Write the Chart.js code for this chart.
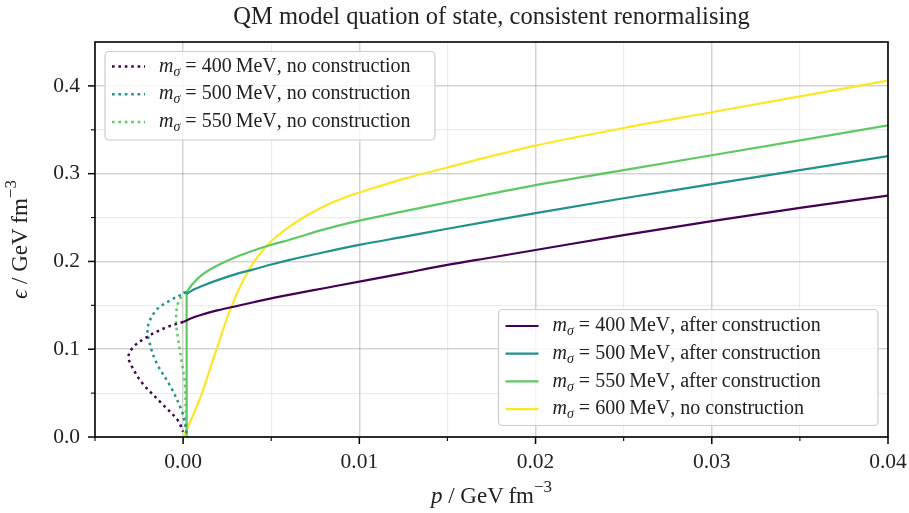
<!DOCTYPE html>
<html>
<head>
<meta charset="utf-8">
<script src="https://cdn.jsdelivr.net/npm/chart.js@4.4.1/dist/chart.umd.min.js"></script>
<style>
  html, body { margin: 0; padding: 0; background: #fff; }
  canvas { display: block; }
</style>
</head>
<body>
<canvas id="grafico" width="909" height="513"></canvas>
<script>
// data: p (x) and epsilon (y), GeV fm^-3
const p400 = [0, 0.0005, 0.001, 0.002, 0.003, 0.004, 0.005, 0.006, 0.008, 0.01, 0.0125, 0.015, 0.0175, 0.02, 0.025, 0.03, 0.035, 0.04];
const e400 = [0.131, 0.1355, 0.139, 0.1445, 0.149, 0.1535, 0.158, 0.162, 0.1695, 0.177, 0.1865, 0.196, 0.2045, 0.213, 0.230, 0.246, 0.261, 0.275];

const p500 = [0.0002, 0.0006, 0.001, 0.002, 0.003, 0.004, 0.005, 0.006, 0.008, 0.01, 0.0125, 0.015, 0.0175, 0.02, 0.025, 0.03, 0.035, 0.04];
const e500 = [0.163, 0.168, 0.1715, 0.179, 0.1855, 0.191, 0.1965, 0.2015, 0.2105, 0.2188, 0.228, 0.2372, 0.2462, 0.255, 0.272, 0.288, 0.304, 0.320];

// 550: vertical jump of the construction, then the curve
const p550jump = [0.0002, 0.0002];
const e550jump = [0, 0.165];
const p550 = [0.0002, 0.0005, 0.001, 0.0015, 0.002, 0.003, 0.004, 0.005, 0.006, 0.008, 0.01, 0.0125, 0.015, 0.0175, 0.02, 0.025, 0.03, 0.035, 0.04];
const e550 = [0.165, 0.1735, 0.1835, 0.1905, 0.196, 0.205, 0.2125, 0.219, 0.2245, 0.2365, 0.2465, 0.257, 0.2673, 0.2773, 0.287, 0.304, 0.321, 0.338, 0.355];

const p600 = [0, 0.0005, 0.001, 0.0015, 0.002, 0.0025, 0.003, 0.0035, 0.004, 0.0045, 0.005, 0.006, 0.007, 0.008, 0.009, 0.01, 0.011, 0.0125, 0.015, 0.0175, 0.02, 0.025, 0.03, 0.035, 0.04];
const e600 = [0, 0.022, 0.046, 0.076, 0.106, 0.136, 0.161, 0.182, 0.199, 0.212, 0.223, 0.239, 0.252, 0.263, 0.2715, 0.2785, 0.2848, 0.294, 0.307, 0.320, 0.332, 0.352, 0.370, 0.388, 0.406];

// no construction (the loops)
const p400nc = [0, -0.0008, -0.0015, -0.0022, -0.0028, -0.0031, -0.0029, -0.0023, -0.0012, -0.0003, 0];
const e400nc = [0.131, 0.126, 0.120, 0.112, 0.103, 0.092, 0.080, 0.061, 0.038, 0.019, 0.006];

const p500nc = [0.0002, -0.0007, -0.0015, -0.0020, -0.0019, -0.0015, -0.0007, -0.0001, 0.0001, 0.0002];
const e500nc = [0.165, 0.156, 0.145, 0.126, 0.107, 0.084, 0.057, 0.031, 0.016, 0.004];

const p550nc = [0.0001, -0.0003, -0.0004, -0.0003, -0.0001, 0.0001, 0.00015, 0.0002];
const e550nc = [0.166, 0.152, 0.131, 0.114, 0.088, 0.061, 0.031, 0.006];

const xMajor = [0, 0.01, 0.02, 0.03, 0.04];
const xMinor = [-0.005, 0.005, 0.015, 0.025, 0.035];
const yMajor = [0, 0.1, 0.2, 0.3, 0.4];
const yMinor = [0.05, 0.15, 0.25, 0.35];

const masses = [400, 500, 550, 600];
const titulo = 'QM model quation of state, consistent renormalising';

const cores = { 400: '#440154', 500: '#21918c', 550: '#5ec962', 600: '#fde725' };
const SERIF = '"Liberation Serif", "DejaVu Serif", serif';

function pontos(xs, ys) {
  return xs.map((x, i) => ({ x, y: ys[i] }));
}

function ehMajor(v, passo) {
  const q = v / passo;
  return Math.abs(q - Math.round(q)) < 1e-6;
}

const tracejado = [2.6, 3.8];

const datasets = [
  { label: '400 nc', data: pontos(p400nc, e400nc), borderColor: cores[400], borderDash: tracejado, tension: 0.35, borderWidth: 2.5 },
  { label: '500 nc', data: pontos(p500nc, e500nc), borderColor: cores[500], borderDash: tracejado, tension: 0.35, borderWidth: 2.5 },
  { label: '550 nc', data: pontos(p550nc, e550nc), borderColor: cores[550], borderDash: tracejado, tension: 0.35, borderWidth: 2.5 },
  { label: '400', data: pontos(p400, e400), borderColor: cores[400], cubicInterpolationMode: 'monotone' },
  { label: '500', data: pontos(p500, e500), borderColor: cores[500], cubicInterpolationMode: 'monotone' },
  { label: '550 jump', data: pontos(p550jump, e550jump), borderColor: cores[550] },
  { label: '550', data: pontos(p550, e550), borderColor: cores[550], cubicInterpolationMode: 'monotone' },
  { label: '600', data: pontos(p600, e600), borderColor: cores[600], cubicInterpolationMode: 'monotone' }
].map(d => Object.assign({ showLine: true, pointRadius: 0, borderWidth: 2.2, fill: false, borderCapStyle: 'butt' }, d));

// draw a label with pieces of italic / sub / superscript text
function medirPecas(ctx, pecas) {
  let w = 0;
  pecas.forEach(p => { ctx.font = p.font; w += ctx.measureText(p.t).width; });
  return w;
}
function desenharPecas(ctx, pecas, x, y) {
  pecas.forEach(p => {
    ctx.font = p.font;
    ctx.fillText(p.t, x, y + (p.dy || 0));
    x += ctx.measureText(p.t).width;
  });
}
function pecasLegenda(massa, nota, s) {
  return [
    { t: 'm', font: `italic ${s}px ${SERIF}` },
    { t: 'σ', font: `italic ${Math.round(s * 0.72)}px ${SERIF}`, dy: s * 0.28 },
    { t: ' = ', font: `${s}px ${SERIF}` },
    { t: massa + '\u2009MeV', font: `${s}px ${SERIF}` },
    { t: ', ' + nota, font: `${s}px ${SERIF}` }
  ];
}
function pecasEixo(simbolo, s) {
  return [
    { t: simbolo, font: `italic ${s}px ${SERIF}` },
    { t: ' / GeV\u2009fm', font: `${s}px ${SERIF}` },
    { t: '\u22123', font: `${Math.round(s * 0.72)}px ${SERIF}`, dy: -s * 0.42 }
  ];
}

function desenharLegenda(ctx, caixa, itens) {
  ctx.save();
  ctx.beginPath();
  ctx.roundRect(caixa.x, caixa.y, caixa.w, caixa.h, 4);
  ctx.fillStyle = 'rgba(255,255,255,0.8)';
  ctx.fill();
  ctx.strokeStyle = '#cccccc';
  ctx.lineWidth = 1.2;
  ctx.stroke();
  itens.forEach((it, i) => {
    const y = caixa.y + caixa.linha0 + i * caixa.passo;
    ctx.beginPath();
    ctx.setLineDash(it.dash || []);
    ctx.strokeStyle = it.cor;
    ctx.lineWidth = it.dash ? 2.5 : 2.2;
    ctx.moveTo(caixa.x + 7, y);
    ctx.lineTo(caixa.x + 40, y);
    ctx.stroke();
    ctx.setLineDash([]);
    ctx.fillStyle = '#222';
    ctx.textBaseline = 'middle';
    ctx.textAlign = 'left';
    desenharPecas(ctx, pecasLegenda(it.massa, it.nota, 20), caixa.x + 54, y);
  });
  ctx.restore();
}

const molduraPlugin = {
  id: 'moldura',
  afterDraw(chart) {
    const ctx = chart.ctx;
    const a = chart.chartArea;
    const sx = chart.scales.x, sy = chart.scales.y;
    ctx.save();
    // ticks
    ctx.strokeStyle = '#000';
    xMajor.concat(xMinor).forEach(v => {
      const px = sx.getPixelForValue(v);
      const maj = xMajor.includes(v);
      ctx.lineWidth = maj ? 1.5 : 1.1;
      ctx.beginPath();
      ctx.moveTo(px, a.bottom);
      ctx.lineTo(px, a.bottom + (maj ? 7 : 4));
      ctx.stroke();
    });
    yMajor.concat(yMinor).forEach(v => {
      const py = sy.getPixelForValue(v);
      const maj = yMajor.includes(v);
      ctx.lineWidth = maj ? 1.5 : 1.1;
      ctx.beginPath();
      ctx.moveTo(a.left, py);
      ctx.lineTo(a.left - (maj ? 7 : 4), py);
      ctx.stroke();
    });
    // frame
    ctx.lineWidth = 1.6;
    ctx.strokeRect(a.left, a.top, a.right - a.left, a.bottom - a.top);

    // legends
    desenharLegenda(ctx, { x: 105, y: 51.5, w: 330, h: 88.5, linha0: 15, passo: 27.7 },
      masses.slice(0, 3).map(m => ({ massa: m, nota: 'no construction', cor: cores[m], dash: tracejado })));
    desenharLegenda(ctx, { x: 498.5, y: 309.5, w: 379.5, h: 116, linha0: 16.5, passo: 27.7 },
      masses.map(m => ({ massa: m, nota: m === 600 ? 'no construction' : 'after construction', cor: cores[m] })));

    // title
    ctx.fillStyle = '#222';
    ctx.textAlign = 'center';
    ctx.textBaseline = 'middle';
    ctx.font = `24.5px ${SERIF}`;
    ctx.fillText(titulo, (a.left + a.right) / 2, 18);

    // axis titles
    ctx.textAlign = 'left';
    const px = pecasEixo('p', 23);
    const wx = medirPecas(ctx, px);
    desenharPecas(ctx, px, (a.left + a.right) / 2 - wx / 2, 497);

    const py = pecasEixo('\u03f5', 23);
    const wy = medirPecas(ctx, py);
    ctx.translate(21, (a.top + a.bottom) / 2);
    ctx.rotate(-Math.PI / 2);
    desenharPecas(ctx, py, -wy / 2, 0);
    ctx.restore();
  }
};

function escalaTicks(maiores, menores) {
  return scale => {
    scale.ticks = maiores.concat(menores).sort((a, b) => a - b).map(v => ({ value: v }));
  };
}

new Chart(document.getElementById('grafico').getContext('2d'), {
  type: 'scatter',
  data: { datasets },
  options: {
    responsive: false,
    animation: false,
    layout: { padding: { top: 42, right: 21, left: 0, bottom: 0 } },
    plugins: { legend: { display: false }, tooltip: { enabled: false } },
    scales: {
      x: {
        type: 'linear', min: -0.005, max: 0.04,
        afterBuildTicks: escalaTicks(xMajor, xMinor),
        afterFit: s => { s.height = 76; s.paddingRight = 0; s.paddingLeft = 0; },
        border: { display: false },
        grid: {
          drawTicks: false,
          color: c => ehMajor(c.tick.value, 0.01) ? 'rgba(0,0,0,0.17)' : 'rgba(0,0,0,0.07)',
          lineWidth: c => ehMajor(c.tick.value, 0.01) ? 1.5 : 1.2
        },
        ticks: {
          autoSkip: false, maxRotation: 0, padding: 12, color: '#222',
          font: { family: SERIF, size: 21.5 },
          callback: v => ehMajor(v, 0.01) ? v.toFixed(2) : ''
        }
      },
      y: {
        type: 'linear', min: 0, max: 0.45,
        afterBuildTicks: escalaTicks(yMajor, yMinor),
        afterFit: s => { s.width = 95; s.paddingTop = 0; s.paddingBottom = 0; },
        border: { display: false },
        grid: {
          drawTicks: false,
          color: c => ehMajor(c.tick.value, 0.1) ? 'rgba(0,0,0,0.17)' : 'rgba(0,0,0,0.07)',
          lineWidth: c => ehMajor(c.tick.value, 0.1) ? 1.5 : 1.2
        },
        ticks: {
          autoSkip: false, padding: 15, color: '#222',
          font: { family: SERIF, size: 21.5 },
          callback: v => ehMajor(v, 0.1) ? v.toFixed(1) : ''
        }
      }
    }
  },
  plugins: [molduraPlugin]
});
</script>
</body>
</html>
